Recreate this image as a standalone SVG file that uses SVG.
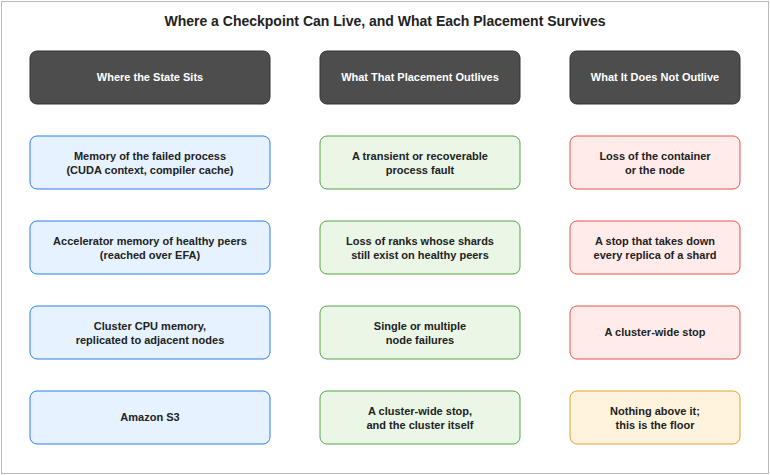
<svg xmlns="http://www.w3.org/2000/svg" width="770" height="475" viewBox="0 0 770 475">
<style>
text{font-family:"Liberation Sans",Arial,sans-serif;font-weight:bold;text-anchor:middle;font-size:11px;fill:#222}
.h rect{fill:#4d4d4d;stroke:#333}
.h text{fill:#fff}
.b rect{fill:#e6f2ff;stroke:#2b7de9}
.g rect{fill:#eaf6e6;stroke:#56a447}
.r rect{fill:#ffecea;stroke:#e5534b}
.o rect{fill:#fff3dc;stroke:#e0a23a}
</style>
<rect x="1.5" y="1.5" width="767" height="472" fill="#fff" stroke="#bbb"/>
<text x="385" y="26" style="font-size:14px">Where a Checkpoint Can Live, and What Each Placement Survives</text>
<g id="connectors"></g>
<g id="h1" class="h"><rect x="30" y="51" width="240" height="53" rx="7"/><text x="150" y="81">Where the State Sits</text></g>
<g id="h2" class="h"><rect x="320" y="51" width="200" height="53" rx="7"/><text x="420" y="81">What That Placement Outlives</text></g>
<g id="h3" class="h"><rect x="570" y="51" width="170" height="53" rx="7"/><text x="655" y="81">What It Does Not Outlive</text></g>

<g id="a1" class="b"><rect x="30" y="136" width="240" height="53" rx="7"/><text x="150" y="160">Memory of the failed process</text><text x="150" y="174">(CUDA context, compiler cache)</text></g>
<g id="a2" class="b"><rect x="30" y="221" width="240" height="53" rx="7"/><text x="150" y="245">Accelerator memory of healthy peers</text><text x="150" y="259">(reached over EFA)</text></g>
<g id="a3" class="b"><rect x="30" y="306" width="240" height="53" rx="7"/><text x="150" y="330">Cluster CPU memory,</text><text x="150" y="344">replicated to adjacent nodes</text></g>
<g id="a4" class="b"><rect x="30" y="391" width="240" height="53" rx="7"/><text x="150" y="421">Amazon S3</text></g>

<g id="b1" class="g"><rect x="320" y="136" width="200" height="53" rx="7"/><text x="420" y="160">A transient or recoverable</text><text x="420" y="174">process fault</text></g>
<g id="b2" class="g"><rect x="320" y="221" width="200" height="53" rx="7"/><text x="420" y="245">Loss of ranks whose shards</text><text x="420" y="259">still exist on healthy peers</text></g>
<g id="b3" class="g"><rect x="320" y="306" width="200" height="53" rx="7"/><text x="420" y="330">Single or multiple</text><text x="420" y="344">node failures</text></g>
<g id="b4" class="g"><rect x="320" y="391" width="200" height="53" rx="7"/><text x="420" y="415">A cluster-wide stop,</text><text x="420" y="429">and the cluster itself</text></g>

<g id="c1" class="r"><rect x="570" y="136" width="170" height="53" rx="7"/><text x="655" y="160">Loss of the container</text><text x="655" y="174">or the node</text></g>
<g id="c2" class="r"><rect x="570" y="221" width="170" height="53" rx="7"/><text x="655" y="245">A stop that takes down</text><text x="655" y="259">every replica of a shard</text></g>
<g id="c3" class="r"><rect x="570" y="306" width="170" height="53" rx="7"/><text x="655" y="336">A cluster-wide stop</text></g>
<g id="c4" class="o"><rect x="570" y="391" width="170" height="53" rx="7"/><text x="655" y="415">Nothing above it;</text><text x="655" y="429">this is the floor</text></g>
</svg>
